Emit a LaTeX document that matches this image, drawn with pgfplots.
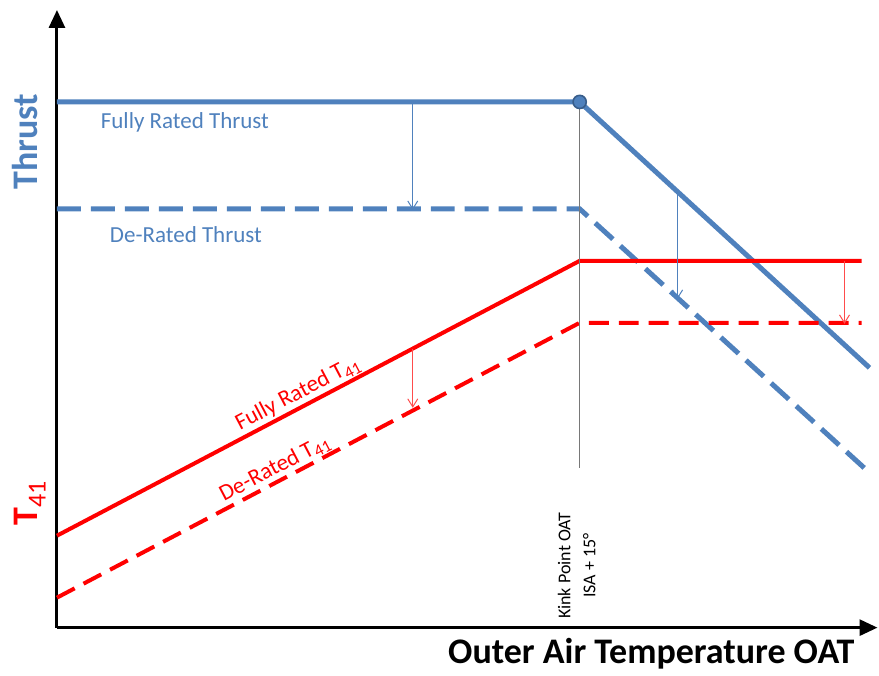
\documentclass[border=0pt]{standalone}
\usepackage{pgfplots}
\pgfplotsset{compat=1.18}
\usepackage{fontspec}
\setmainfont{Carlito}
\usetikzlibrary{arrows.meta}
\definecolor{thrustblue}{RGB}{79,129,189}
\definecolor{markedge}{RGB}{56,93,138}
\definecolor{kinkgray}{RGB}{120,120,120}
\begin{document}
\begin{tikzpicture}
\begin{axis}[
    scale only axis,
    width=410.5pt, height=309pt,
    xmin=57, xmax=878, ymin=47, ymax=665,
    axis lines=left,
    axis line style={line width=1.5pt, -{Triangle[length=9pt,width=8pt]}},
    xtick=\empty, ytick=\empty,
    clip=false,
]
  % invisible frame so the page has the reference's size
  \path (axis cs:0,0) rectangle (axis cs:879,675);

  % thrust
  \addplot[thrustblue, line width=2.5pt] coordinates {(57,573) (580,573) (870,307)};
  \addplot[thrustblue, line width=2.5pt, dash pattern=on 12pt off 5pt] coordinates {(57,466) (580,466) (870,202)};
  % T41
  \addplot[red, line width=2pt] coordinates {(57,139) (580,414) (862,414)};
  \addplot[red, line width=2pt, dash pattern=on 10pt off 5pt] coordinates {(57,77) (580,352) (862,352)};

  % kink line
  \addplot[kinkgray, line width=0.8pt] coordinates {(580,573) (580,207)};
  \addplot[only marks, mark=*, mark size=3.3pt, mark options={fill=thrustblue, draw=markedge, line width=0.8pt}] coordinates {(580,573)};

  % derate arrows
  \addplot[thrustblue, line width=0.5pt, -{Straight Barb[length=4pt,width=5pt]}] coordinates {(413,573) (413,465)};
  \addplot[thrustblue, line width=0.5pt, -{Straight Barb[length=4pt,width=5pt]}] coordinates {(678,483) (678,376)};
  \addplot[red!70, line width=0.5pt, -{Straight Barb[length=4pt,width=5pt]}] coordinates {(413,326) (413,267)};
  \addplot[red!70, line width=0.5pt, -{Straight Barb[length=4pt,width=5pt]}] coordinates {(845,414) (845,351)};

  % labels
  \node[text=thrustblue, font=\fontsize{11.5}{13}\selectfont] at (axis cs:185,553) {Fully Rated Thrust};
  \node[text=thrustblue, font=\fontsize{11.5}{13}\selectfont] at (axis cs:186,440) {De-Rated Thrust};
  \node[text=red, rotate=27.7, font=\fontsize{11.5}{13}\selectfont] at (axis cs:298,281) {Fully Rated T\raisebox{-0.4ex}{\fontsize{8.5}{9}\selectfont 41}};
  \node[text=red, rotate=27.7, font=\fontsize{11.5}{13}\selectfont] at (axis cs:275,206) {De-Rated T\raisebox{-0.4ex}{\fontsize{8.5}{9}\selectfont 41}};
  \node[rotate=90, align=center, font=\fontsize{9}{12.5}\selectfont] at (axis cs:577,109) {Kink Point OAT\\ISA + 15°};

  % axis titles
  \node[text=thrustblue, rotate=90, anchor=base, font=\fontsize{18}{20}\bfseries\selectfont] at (axis cs:38,533) {Thrust};
  \node[text=red, rotate=90, anchor=base, font=\fontsize{18}{20}\selectfont] at (axis cs:38,171) {\textbf{T}\raisebox{-0.45ex}{\fontsize{13}{14}\selectfont 41}};
  \node[anchor=base east, font=\fontsize{18}{20}\bfseries\selectfont] at (axis cs:862,11) {Outer Air Temperature OAT};
\end{axis}
\end{tikzpicture}
\end{document}
